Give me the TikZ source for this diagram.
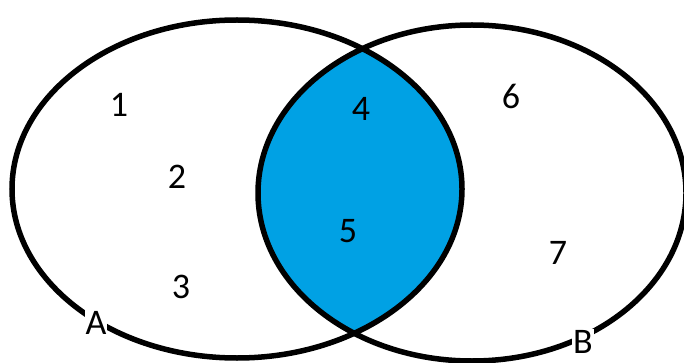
\documentclass[tikz,border=0pt]{standalone}
\usepackage{fontspec}
\setmainfont{Carlito}
\definecolor{lensblue}{RGB}{0,161,228}
\begin{document}
\begin{tikzpicture}[x=1pt,y=-1pt,
  ring/.style={line width=5.5pt,draw=black},
  num/.style={font=\fontsize{36}{36}\selectfont,inner sep=0pt},
  setlabel/.style={font=\fontsize{36}{36}\selectfont,fill=white,inner sep=1pt,text depth=0pt}]
\useasboundingbox (0,0) rectangle (684,363);
\clip (0,0) rectangle (684,363);
\begin{scope}
  \clip (237,189) ellipse [x radius=225,y radius=169];
  \fill[lensblue] (472,193) ellipse [x radius=214,y radius=168];
\end{scope}
\draw[ring] (237,189) ellipse [x radius=225,y radius=169];
\draw[ring] (472,193) ellipse [x radius=214,y radius=168];
\node[num] (n1) at (119,105) {1};
\node[num] (n2) at (177,177) {2};
\node[num] (n3) at (181,287) {3};
\node[num] (n4) at (361,109) {4};
\node[num] (n5) at (348,231) {5};
\node[num] (n6) at (511,96) {6};
\node[num] (n7) at (558,253) {7};
\node[setlabel] (A) at (96,323) {A};
\node[setlabel] (B) at (583,342) {B};
\end{tikzpicture}
\end{document}
